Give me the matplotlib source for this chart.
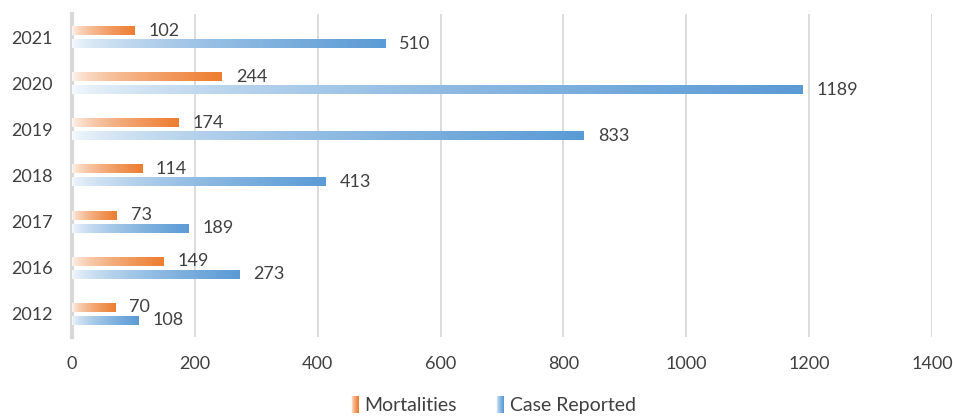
import numpy as np
import matplotlib.pyplot as plt
from matplotlib.colors import to_rgb
from matplotlib.patches import Rectangle
from matplotlib.legend_handler import HandlerBase

years = ["2012", "2016", "2017", "2018", "2019", "2020", "2021"]
mortalities = [70, 149, 73, 114, 174, 244, 102]
cases = [108, 273, 189, 413, 833, 1189, 510]
series_names = ["Mortalities", "Case Reported"]
series_colors = ["#ED7D31", "#5B9BD5"]
xticks = [0, 200, 400, 600, 800, 1000, 1200, 1400]

plt.rcParams["font.family"] = ["Lato", "DejaVu Sans"]
text_color = "#404040"


def gradient_rgb(color, n=256):
    # white on the left -> full colour on the right
    c = np.array(to_rgb(color))
    t = np.linspace(0, 1, n)
    w = np.clip(0.05 + 0.95 * t ** 0.6, 0, 1)[:, None]
    return (1 - w) + w * c


def grad_bar(ax, y, width, height, color):
    img = gradient_rgb(color)[None, :, :]
    ax.imshow(img, extent=(0, width, y - height / 2, y + height / 2),
              aspect="auto", interpolation="bilinear", zorder=3)


class GradHandler(HandlerBase):
    def __init__(self, color):
        super().__init__()
        self.color = color

    def create_artists(self, legend, orig_handle, xdescent, ydescent,
                       width, height, fontsize, trans):
        cols = gradient_rgb(self.color, 8)
        seg = width / len(cols)
        arts = []
        for i, c in enumerate(cols):
            arts.append(Rectangle((-xdescent + i * seg, -ydescent - 1), seg * 1.05, height + 2,
                                  facecolor=c, edgecolor="none", transform=trans))
        return arts


fig = plt.figure(figsize=(9.54, 4.17), dpi=100)
ax = fig.add_axes([0.0755, 0.192, 0.9015, 0.774])

bh = 0.19
off = 0.14
fs = 13
ypos = np.arange(len(years))
for i in ypos:
    grad_bar(ax, i + off, mortalities[i], bh, series_colors[0])
    grad_bar(ax, i - off, cases[i], bh, series_colors[1])
    ax.annotate(str(mortalities[i]), (mortalities[i], i + off), xytext=(10, 0),
                textcoords="offset points", va="center", ha="left",
                fontsize=fs, color=text_color, zorder=5)
    ax.annotate(str(cases[i]), (cases[i], i - off), xytext=(10, 0),
                textcoords="offset points", va="center", ha="left",
                fontsize=fs, color=text_color, zorder=5)

ax.set_xlim(0, 1400)
ax.set_ylim(-0.5, len(years) - 0.5)
ax.set_xticks(xticks)
ax.set_xticklabels([str(v) for v in xticks])
ax.set_yticks(ypos)
ax.set_yticklabels(years)
ax.tick_params(axis="both", length=0, labelsize=fs, labelcolor=text_color)
ax.tick_params(axis="y", pad=14)
ax.tick_params(axis="x", pad=14)
ax.grid(axis="x", color="#D9D9D9", linewidth=1.3, zorder=0)
ax.set_axisbelow(True)
for s in ["top", "right", "bottom"]:
    ax.spines[s].set_visible(False)
ax.spines["left"].set_color("#D9D9D9")
ax.spines["left"].set_linewidth(3)

h1 = Rectangle((0, 0), 1, 1)
h2 = Rectangle((0, 0), 1, 1)
fig.legend([h1, h2], series_names, loc="lower center", bbox_to_anchor=(0.517, -0.035),
           ncol=2, frameon=False, fontsize=14, labelcolor=text_color,
           handlelength=0.4, handleheight=0.75, handletextpad=0.3, columnspacing=2.0,
           handler_map={h1: GradHandler(series_colors[0]), h2: GradHandler(series_colors[1])})

fig.savefig("out.png", dpi=100)
